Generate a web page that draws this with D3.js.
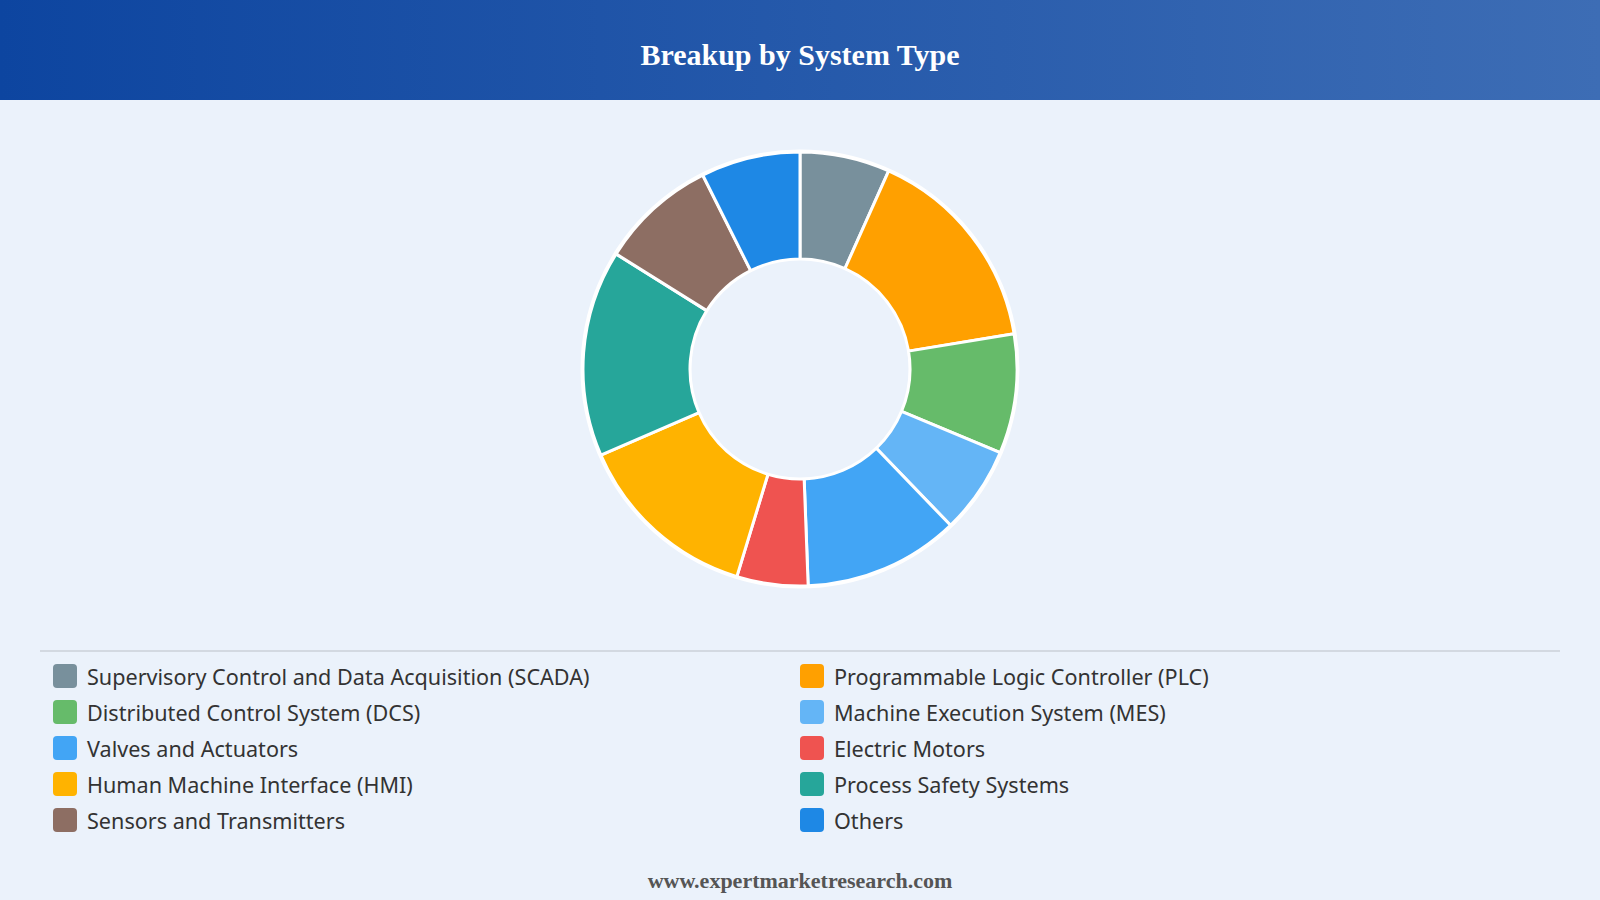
<!DOCTYPE html>
<html>
<head>
<meta charset="utf-8">
<script src="https://cdn.jsdelivr.net/npm/d3@7"></script>
<style>
	html, body { margin: 0; padding: 0; background: #ebf2fb; }
	svg { display: block; }
</style>
</head>
<body>
<svg id="chart" width="1600" height="900"></svg>
<script>
// shares in %, clockwise from 12 o'clock
var categories = [
	"Supervisory Control and Data Acquisition (SCADA)",
	"Programmable Logic Controller (PLC)",
	"Distributed Control System (DCS)",
	"Machine Execution System (MES)",
	"Valves and Actuators",
	"Electric Motors",
	"Human Machine Interface (HMI)",
	"Process Safety Systems",
	"Sensors and Transmitters",
	"Others"
];
var shares = [6.7, 15.7, 8.9, 6.5, 11.6, 5.3, 13.8, 15.4, 8.7, 7.4];
var colors = ["#78909c", "#ffa000", "#66bb6a", "#64b5f6", "#42a5f5", "#ef5350", "#ffb300", "#26a69a", "#8d6e63", "#1e88e5"];

var W = 1600, H = 900;
var svg = d3.select("#chart");

// header band
var grad = svg.append("defs").append("linearGradient")
	.attr("id", "hdr").attr("x1", "0%").attr("x2", "100%");
grad.append("stop").attr("offset", "0%").attr("stop-color", "#0d45a0");
grad.append("stop").attr("offset", "100%").attr("stop-color", "#3d6db5");

svg.append("rect").attr("width", W).attr("height", H).attr("fill", "#ebf2fb");
svg.append("rect").attr("width", W).attr("height", 100).attr("fill", "url(#hdr)");
svg.append("text")
	.attr("x", W / 2).attr("y", 54)
	.attr("text-anchor", "middle").attr("dominant-baseline", "central")
	.attr("font-family", "'Liberation Serif', 'Times New Roman', serif")
	.attr("font-weight", "bold").attr("font-size", 30)
	.attr("fill", "#fff")
	.text("Breakup by System Type");

// donut
var data = categories.map(function(c, i) { return { name: c, value: shares[i], color: colors[i] }; });
var pie = d3.pie().value(function(d) { return d.value; }).sort(null);
var arc = d3.arc().innerRadius(110).outerRadius(217);

var g = svg.append("g").attr("transform", "translate(800,369)");
g.append("circle").attr("r", 219.5).attr("fill", "#fff");
g.selectAll("path")
	.data(pie(data))
	.enter()
	.append("path")
	.attr("d", arc)
	.attr("fill", function(d) { return d.data.color; })
	.attr("stroke", "#fff")
	.attr("stroke-width", 3)
	.attr("stroke-linejoin", "round");
g.append("circle").attr("r", 108.5).attr("fill", "#ebf2fb");

// legend
svg.append("line")
	.attr("x1", 40).attr("x2", 1560).attr("y1", 651).attr("y2", 651)
	.attr("stroke", "#d3d9e1").attr("stroke-width", 2);

var legend = svg.append("g").selectAll("g")
	.data(data)
	.enter()
	.append("g")
	.attr("transform", function(d, i) {
		var col = i % 2, row = Math.floor(i / 2);
		return "translate(" + (col ? 800 : 53) + "," + (676 + row * 36) + ")";
	});
legend.append("rect")
	.attr("x", 0).attr("y", -12).attr("width", 24).attr("height", 24).attr("rx", 4)
	.attr("fill", function(d) { return d.color; });
legend.append("text")
	.attr("x", 34).attr("y", 0)
	.attr("dominant-baseline", "central")
	.attr("font-family", "'Noto Sans', 'Open Sans', sans-serif")
	.attr("font-size", 21.6)
	.attr("fill", "#333")
	.text(function(d) { return d.name; });

svg.append("text")
	.attr("x", W / 2).attr("y", 880)
	.attr("text-anchor", "middle").attr("dominant-baseline", "central")
	.attr("font-family", "'Liberation Serif', 'Times New Roman', serif")
	.attr("font-weight", "bold").attr("font-size", 22)
	.attr("fill", "#555")
	.text("www.expertmarketresearch.com");
</script>
</body>
</html>
